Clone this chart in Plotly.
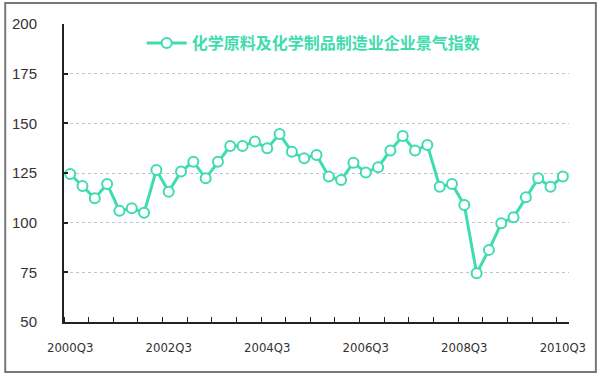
import plotly.graph_objects as go

# Quarters 2000Q3 .. 2010Q3
quarters = []
for y in range(2000, 2011):
    for q in range(1, 5):
        if (y == 2000 and q < 3) or (y == 2010 and q > 3):
            continue
        quarters.append(f"{y}Q{q}")

index_values = [124.5, 118.5, 112.3, 119.5, 106.0, 107.2, 105.0, 126.5, 115.6, 125.7,
                130.7, 122.3, 130.7, 138.6, 138.6, 140.8, 137.4, 144.6, 135.7, 132.4,
                134.1, 123.2, 121.5, 130.2, 125.2, 127.9, 136.3, 143.6, 136.3, 139.1,
                118.1, 119.5, 108.9, 74.5, 86.3, 99.7, 102.7, 112.8, 122.3, 118.1,
                123.2]

label_quarters = ["2000Q3", "2002Q3", "2004Q3", "2006Q3", "2008Q3", "2010Q3"]
series_name = "化学原料及化学制品制造业企业景气指数"
y_ticks = [50, 75, 100, 125, 150, 175, 200]

teal = "#3fdcb0"
xs = list(range(len(quarters)))

fig = go.Figure()
fig.add_trace(go.Scatter(
    x=xs, y=index_values, mode="lines+markers", name=series_name,
    line=dict(color=teal, width=3),
    marker=dict(symbol="circle", size=10, color="white",
                line=dict(color=teal, width=2)),
    showlegend=True,
))

W, H = 600, 377
L, R, T, B = 62, 31, 24, 55
pw, ph = W - L - R, H - T - B

fig.update_layout(
    width=W, height=H,
    margin=dict(l=L, r=R, t=T, b=B),
    paper_bgcolor="white", plot_bgcolor="white",
    showlegend=True,
    legend=dict(
        x=(140 - L) / pw, y=(H - B - 43) / ph, xanchor="left", yanchor="middle",
        bgcolor="white", borderwidth=0,
        font=dict(family="Noto Sans CJK SC", size=16, color=teal, weight="bold"),
        itemwidth=40,
    ),
    xaxis=dict(
        range=[-0.5, len(quarters) - 0.5],
        tickmode="array",
        tickvals=[quarters.index(q) for q in label_quarters],
        ticktext=label_quarters,
        ticks="", showgrid=False, zeroline=False,
        showline=True, linecolor="#222", linewidth=2,
        tickfont=dict(family="DejaVu Sans Condensed", size=13, color="#333"),
        ticklabelstandoff=12,
        minor=dict(tick0=-0.5, dtick=2, ticks="inside", ticklen=5,
                   tickcolor="#222", tickwidth=1, showgrid=False),
        fixedrange=True,
    ),
    yaxis=dict(
        range=[50, 200], tickmode="array", tickvals=y_ticks,
        ticks="inside", ticklen=4, tickcolor="#222", tickwidth=2,
        showgrid=True, gridcolor="#c4c4c4", griddash="dot", gridwidth=1,
        zeroline=False, showline=True, linecolor="#222", linewidth=2,
        tickfont=dict(family="Liberation Sans", size=15, color="#333"),
        ticklabelstandoff=22,
        fixedrange=True,
    ),
    shapes=[dict(
        type="rect", xref="paper", yref="paper",
        x0=-(L - 3) / pw, x1=1 + (W - 4 - (W - R)) / pw,
        y0=-(B - 5) / ph, y1=1 + (T - 3) / ph,
        line=dict(color="#777", width=2), fillcolor="rgba(0,0,0,0)",
        layer="below",
    )],
)

fig.write_html("out.html")
